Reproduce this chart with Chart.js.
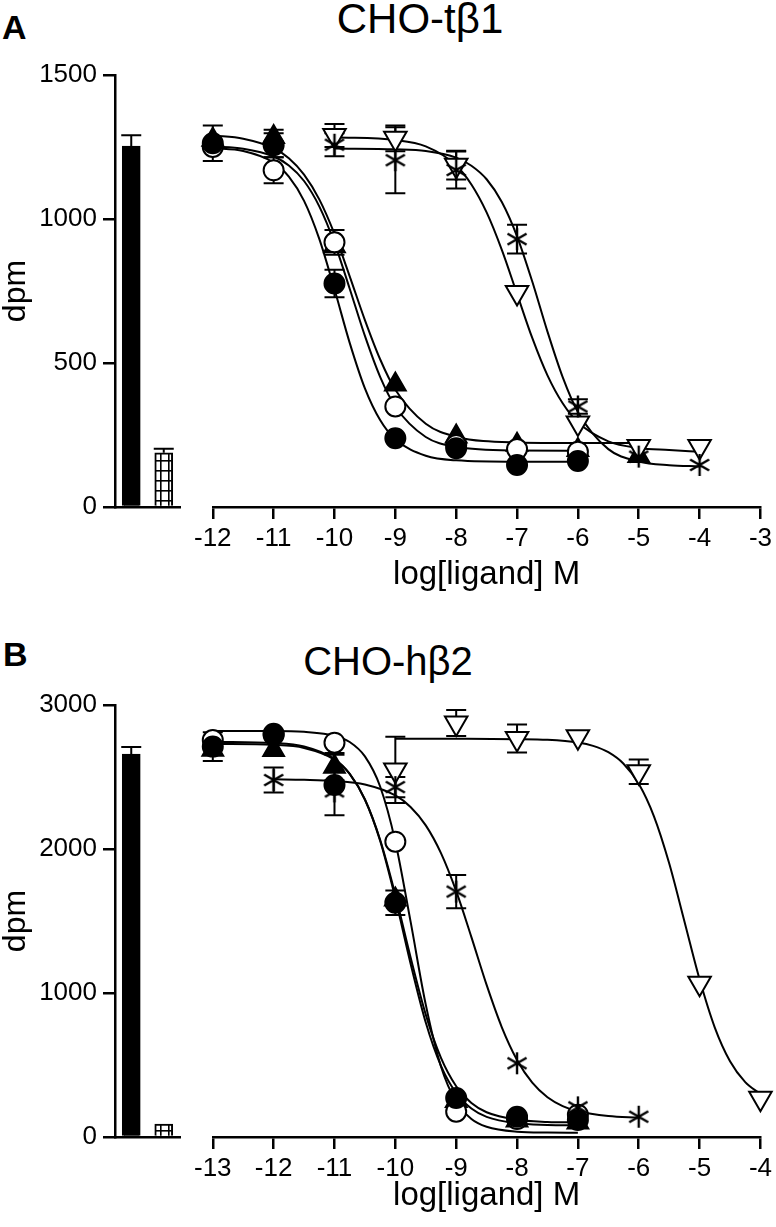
<!DOCTYPE html>
<html>
<head>
<meta charset="utf-8">
<script src="https://cdn.jsdelivr.net/npm/chart.js@4.4.1/dist/chart.umd.min.js"></script>
<style>
  body { margin: 0; background: #fff; }
  #wrap { position: relative; width: 776px; height: 1227px; overflow: hidden; font-family: "Liberation Sans", Arial, sans-serif; }
  .lbl { position: absolute; color: #000; white-space: nowrap; line-height: 1; }
  canvas { position: absolute; }
</style>
</head>
<body>
<div id="wrap">
  <div class="lbl" style="left:2px; top:10px; font-size:34px; font-weight:bold;">A</div>
  <div class="lbl" style="left:120px; top:-2px; width:600px; text-align:center; font-size:42px;">CHO-tβ1</div>
  <div class="lbl" style="left:3px; top:637px; font-size:34px; font-weight:bold;">B</div>
  <div class="lbl" style="left:88px; top:641px; width:600px; text-align:center; font-size:40px;">CHO-hβ2</div>
  <canvas id="barA" width="195" height="600" style="left:0; top:0;"></canvas>
  <canvas id="curveA" width="586" height="600" style="left:190px; top:0;"></canvas>
  <canvas id="barB" width="195" height="617" style="left:0; top:610px;"></canvas>
  <canvas id="curveB" width="586" height="617" style="left:190px; top:610px;"></canvas>
</div>
<script>
// ---- Panel A (CHO-tβ1) ----
const barLabels = ['total', 'non-specific'];
const aBarValues = [1253, 188];
const aBarErrors = [38, 14];

const aFilledCircleX = [-12, -11, -10, -9, -8, -7, -6];
const aFilledCircleY = [1263, 1256, 776, 239, 204, 146, 160];
const aFilledCircleErr = [62, 42, 48, 0, 0, 0, 0];

const aOpenCircleX = [-12, -11, -10, -9, -8, -7, -6];
const aOpenCircleY = [1250, 1169, 919, 349, 215, 201, 192];
const aOpenCircleErr = [0, 45, 43, 0, 0, 0, 0];

const aTriangleX = [-12, -11, -10, -9, -8, -7, -6, -5];
const aTriangleY = [1275, 1285, 905, 425, 245, 216, 198, 177];
const aTriangleErr = [0, 25, 0, 0, 0, 0, 0, 0];

const aStarX = [-10, -9, -8, -7, -6, -5, -4];
const aStarY = [1258, 1204, 1170, 930, 349, 175, 146];
const aStarErr = [40, 115, 64, 50, 25, 0, 0];

const aDownTriX = [-10, -9, -8, -7, -6, -5, -4];
const aDownTriY = [1290, 1280, 1187, 745, 292, 210, 210];
const aDownTriErr = [40, 45, 50, 0, 0, 0, 0];

// fitted curves
const aLeftFitX = [-12, -11.5, -11, -10.75, -10.5, -10.25, -10, -9.75, -9.5, -9.25, -9, -8.5, -8, -7, -6];
const aFilledCircleFit = [1246, 1236, 1196, 1147, 1063, 931, 756, 570, 412, 302, 235, 178, 162, 157, 157];
const aOpenCircleFit = [1252, 1244, 1217, 1186, 1132, 1044, 917, 758, 594, 452, 349, 243, 209, 196, 195];
const aTriangleFitX = [-12, -11.5, -11, -10.75, -10.5, -10.25, -10, -9.75, -9.5, -9.25, -9, -8.5, -8, -7, -6, -5];
const aTriangleFit = [1290, 1279, 1246, 1211, 1154, 1068, 948, 801, 649, 513, 407, 289, 244, 224, 222, 222];
const aRightFitX = [-10, -9, -8.5, -8, -7.75, -7.5, -7.25, -7, -6.75, -6.5, -6.25, -6, -5.5, -5, -4.5, -4];
const aStarFit = [1245, 1242, 1236, 1213, 1185, 1138, 1059, 940, 783, 609, 451, 330, 201, 158, 145, 141];
const aDownTriFit = [1284, 1274, 1252, 1186, 1120, 1023, 893, 740, 587, 457, 360, 294, 228, 205, 198, 192];

// ---- Panel B (CHO-hβ2) ----
const bBarValues = [2660, 90];
const bBarErrors = [48, 0];

const bFilledCircleX = [-13, -12, -11, -10, -9, -8, -7];
const bFilledCircleY = [2711, 2792, 2444, 1627, 271, 141, 118];
const bFilledCircleErr = [100, 0, 210, 85, 0, 0, 0];

const bOpenCircleX = [-13, -12, -11, -10, -9, -8, -7];
const bOpenCircleY = [2757, 2800, 2738, 2051, 176, 125, 155];
const bOpenCircleErr = [0, 0, 0, 0, 0, 0, 0];

const bTriangleX = [-13, -12, -11, -10, -9, -8, -7];
const bTriangleY = [2690, 2688, 2572, 1650, 250, 115, 100];
const bTriangleErr = [0, 0, 95, 0, 0, 0, 0];

const bStarX = [-12, -11, -10, -9, -8, -7, -6];
const bStarY = [2479, 2400, 2430, 1704, 512, 206, 141];
const bStarErr = [87, 0, 70, 115, 0, 0, 0];

const bDownTriX = [-10, -9, -8, -7, -6, -5, -4];
const bDownTriY = [2549, 2875, 2768, 2780, 2537, 1067, 269];
const bDownTriErr = [230, 90, 97, 0, 85, 0, 0];

const bLeftFitX = [-13, -12, -11.5, -11, -10.75, -10.5, -10.25, -10, -9.75, -9.5, -9.25, -9, -8.75, -8.5, -8, -7.5, -7];
const bFilledCircleFit = [2745, 2736, 2712, 2625, 2522, 2344, 2064, 1682, 1248, 850, 549, 352, 236, 172, 120, 105, 101];
const bOpenCircleFit = [2820, 2820, 2814, 2787, 2743, 2643, 2434, 2051, 1497, 919, 490, 244, 125, 71, 37, 31, 30];
const bTriangleFit = [2730, 2723, 2702, 2621, 2521, 2344, 2057, 1658, 1205, 795, 494, 305, 198, 140, 95, 84, 81];
const bStarFitX = [-12, -11.5, -11, -10.5, -10, -9.75, -9.5, -9.25, -9, -8.75, -8.5, -8.25, -8, -7.75, -7.5, -7.25, -7, -6.5, -6];
const bStarFit = [2484, 2481, 2473, 2448, 2372, 2292, 2164, 1971, 1707, 1388, 1056, 762, 535, 377, 276, 215, 179, 146, 135];
const bDownTriFitX = [-10, -9, -8, -7.5, -7, -6.75, -6.5, -6.25, -6, -5.75, -5.5, -5.25, -5, -4.75, -4.5, -4.25, -4];
const bDownTriFit = [2765, 2765, 2763, 2758, 2739, 2716, 2672, 2592, 2453, 2227, 1901, 1499, 1095, 760, 526, 381, 298];

Chart.defaults.font.family = '"Liberation Sans", Arial, sans-serif';
Chart.defaults.color = '#000';

// error bars drawn under the markers
const errorBars = {
  id: 'errorBars',
  beforeDatasetsDraw(chart) {
    const ctx = chart.ctx;
    const y = chart.scales.y;
    chart.data.datasets.forEach((ds, i) => {
      if (!ds.errors) return;
      const meta = chart.getDatasetMeta(i);
      ctx.save();
      ctx.strokeStyle = '#000';
      ctx.lineWidth = 2;
      ds.data.forEach((d, j) => {
        const e = ds.errors[j];
        if (!e) return;
        const v = typeof d === 'object' ? d.y : d;
        const px = meta.data[j].x;
        const top = y.getPixelForValue(v + e);
        const bot = ds.upOnly ? y.getPixelForValue(v) : y.getPixelForValue(v - e);
        ctx.beginPath();
        ctx.moveTo(px, top); ctx.lineTo(px, bot);
        ctx.moveTo(px - 10, top); ctx.lineTo(px + 10, top);
        if (!ds.upOnly) { ctx.moveTo(px - 10, bot); ctx.lineTo(px + 10, bot); }
        ctx.stroke();
      });
      ctx.restore();
    });
  }
};

function asteriskImage() {
  const s = 26, c = document.createElement('canvas');
  c.width = s; c.height = s;
  const g = c.getContext('2d');
  g.strokeStyle = '#000';
  g.lineWidth = 2.4;
  const r = 11;
  g.beginPath();
  for (let k = 0; k < 3; k++) {
    const a = k * Math.PI / 3;
    g.moveTo(s / 2 + r * Math.sin(a), s / 2 - r * Math.cos(a));
    g.lineTo(s / 2 - r * Math.sin(a), s / 2 + r * Math.cos(a));
  }
  g.stroke();
  return c;
}

function gridPattern() {
  const c = document.createElement('canvas');
  c.width = 8; c.height = 10;
  const g = c.getContext('2d');
  g.fillStyle = '#fff'; g.fillRect(0, 0, 8, 10);
  g.fillStyle = '#000';
  g.fillRect(0, 0, 8, 1.6);
  g.fillRect(0, 0, 1.6, 10);
  return g.createPattern(c, 'repeat');
}

const starImg = asteriskImage();

function pts(xs, ys) { return xs.map((x, i) => ({ x: x, y: ys[i] })); }

function fit(xs, ys) {
  return {
    data: pts(xs, ys), showLine: true, pointRadius: 0, borderColor: '#000',
    borderWidth: 2, cubicInterpolationMode: 'monotone', fill: false, order: 10, clip: false
  };
}

function marker(xs, ys, errs, kind) {
  const base = { data: pts(xs, ys), errors: errs, showLine: false, borderColor: '#000', borderWidth: 2, clip: false };
  if (kind === 'filledCircle') return Object.assign(base, { pointStyle: 'circle', pointRadius: 10, backgroundColor: '#000', order: 3 });
  if (kind === 'openCircle') return Object.assign(base, { pointStyle: 'circle', pointRadius: 10, backgroundColor: '#fff', order: 4 });
  if (kind === 'triangle') return Object.assign(base, { pointStyle: 'triangle', pointRadius: 12, backgroundColor: '#000', order: 5 });
  if (kind === 'downTri') return Object.assign(base, { pointStyle: 'triangle', rotation: 180, pointRadius: 13, backgroundColor: '#fff', order: 2 });
  return Object.assign(base, { pointStyle: starImg, pointRadius: 11, backgroundColor: '#000', order: 1 });
}

const plainTick = v => String(v);

function barChart(id, values, errors, yMax, step, top, axisH, fills) {
  new Chart(document.getElementById(id), {
    type: 'bar',
    data: {
      labels: barLabels,
      datasets: [{
        data: values, errors: errors, upOnly: true,
        backgroundColor: fills, borderColor: '#000', borderWidth: 2, barThickness: 18
      }]
    },
    options: {
      responsive: false, animation: false,
      layout: { padding: { top: top, right: 15, left: 0, bottom: 0 } },
      plugins: { legend: { display: false }, tooltip: { enabled: false } },
      scales: {
        x: {
          grid: { display: false, drawTicks: false },
          ticks: { display: false },
          border: { color: '#000', width: 2.5 },
          afterFit(s) { s.height = axisH; }
        },
        y: {
          min: 0, max: yMax,
          ticks: { stepSize: step, font: { size: 26 }, padding: 6, color: '#000', callback: plainTick },
          grid: { drawOnChartArea: false, tickLength: 12, color: '#000', lineWidth: 2.5 },
          border: { color: '#000', width: 2.5 },
          title: { display: true, text: 'dpm', font: { size: 32, lineHeight: 1 }, padding: 0, color: '#000' },
          afterFit(s) { s.width = 115; }
        }
      }
    },
    plugins: [errorBars]
  });
}

function curveChart(id, datasets, xMin, xMax, yMax, top, axisH, titlePad) {
  new Chart(document.getElementById(id), {
    type: 'scatter',
    data: { datasets: datasets },
    options: {
      responsive: false, animation: false,
      layout: { padding: { top: top, left: 21, right: 15, bottom: 0 } },
      plugins: { legend: { display: false }, tooltip: { enabled: false } },
      scales: {
        x: {
          type: 'linear', min: xMin, max: xMax,
          ticks: { stepSize: 1, font: { size: 26 }, padding: 4, autoSkip: false, maxRotation: 0, color: '#000', callback: plainTick },
          grid: { drawOnChartArea: false, tickLength: 12, color: '#000', lineWidth: 2.5 },
          border: { color: '#000', width: 2.5 },
          title: { display: true, text: 'log[ligand] M', font: { size: 33, lineHeight: 1 }, padding: { top: 0, bottom: titlePad }, color: '#000' },
          afterFit(s) { s.height = axisH; }
        },
        y: { display: false, min: 0, max: yMax }
      }
    },
    plugins: [errorBars]
  });
}

const pattern = gridPattern();

barChart('barA', aBarValues, aBarErrors, 1500, 500, 75, 93, ['#000', pattern]);
curveChart('curveA', [
  fit(aLeftFitX, aFilledCircleFit),
  fit(aLeftFitX, aOpenCircleFit),
  fit(aTriangleFitX, aTriangleFit),
  fit(aRightFitX, aStarFit),
  fit(aRightFitX, aDownTriFit),
  marker(aTriangleX, aTriangleY, aTriangleErr, 'triangle'),
  marker(aOpenCircleX, aOpenCircleY, aOpenCircleErr, 'openCircle'),
  marker(aFilledCircleX, aFilledCircleY, aFilledCircleErr, 'filledCircle'),
  marker(aDownTriX, aDownTriY, aDownTriErr, 'downTri'),
  marker(aStarX, aStarY, aStarErr, 'star')
], -12, -3, 1500, 75, 93, 9);

barChart('barB', bBarValues, bBarErrors, 3000, 1000, 95, 90, ['#000', pattern]);
curveChart('curveB', [
  fit(bLeftFitX, bFilledCircleFit),
  fit(bLeftFitX, bOpenCircleFit),
  fit(bLeftFitX, bTriangleFit),
  fit(bStarFitX, bStarFit),
  fit(bDownTriFitX, bDownTriFit),
  marker(bTriangleX, bTriangleY, bTriangleErr, 'triangle'),
  marker(bOpenCircleX, bOpenCircleY, bOpenCircleErr, 'openCircle'),
  marker(bFilledCircleX, bFilledCircleY, bFilledCircleErr, 'filledCircle'),
  marker(bDownTriX, bDownTriY, bDownTriErr, 'downTri'),
  marker(bStarX, bStarY, bStarErr, 'star')
], -13, -4, 3000, 95, 90, 15);
</script>
</body>
</html>
